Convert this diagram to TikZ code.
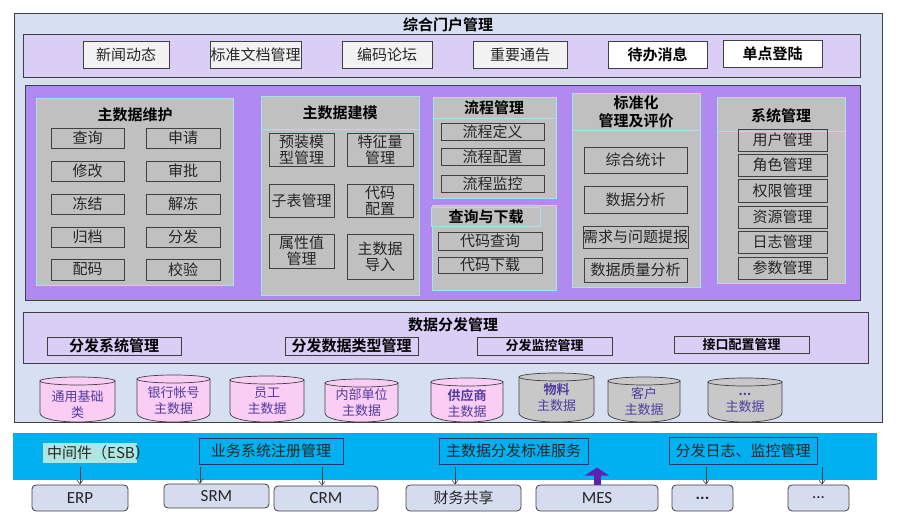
\documentclass[tikz,border=0pt]{standalone}
\usepackage{fontspec}
\setmainfont{Noto Sans CJK SC}[BoldFont={Noto Sans CJK SC Bold}]
\newfontfamily\latin{Carlito}
\usetikzlibrary{arrows.meta}
\definecolor{outerbg}{RGB}{214,224,242}
\definecolor{lav}{RGB}{218,206,246}
\definecolor{purp}{RGB}{176,138,240}
\definecolor{greyp}{RGB}{192,192,192}
\definecolor{cyanl}{RGB}{165,228,232}
\definecolor{btnbg}{RGB}{242,242,242}
\definecolor{edge}{RGB}{64,64,64}
\definecolor{txt}{RGB}{38,38,38}
\definecolor{pinkdb}{RGB}{250,205,245}
\definecolor{greydb}{RGB}{200,200,200}
\definecolor{dbtext}{RGB}{80,60,160}
\definecolor{esbc}{RGB}{0,176,240}
\definecolor{esblab}{RGB}{175,230,225}
\definecolor{navy}{RGB}{31,56,100}
\definecolor{sysbg}{RGB}{214,220,240}
\definecolor{uparrow}{RGB}{96,32,176}
\newcommand\fsz[2]{\fontsize{#1}{#2}\selectfont}
\newcommand\bx[7]{\node[#1, minimum width={(#5-#3)*1pt}, minimum height={(#6-#4)*1pt}] (#2) at ({(#3+#5)/2},{(#4+#6)/2}) {#7};}
\newcommand\cyl[7]{%
 \filldraw[dbline, fill=#5] ({#2},{#4+4}) -- ({#2},413) .. controls ({#2},425) and ({#3},425) .. ({#3},413) -- ({#3},{#4+4}) -- cycle;
 \filldraw[dbline, fill=#5] ({(#2+#3)/2},{#4+4}) ellipse [x radius={(#3-#2)/2}, y radius=4];
 \node[dbtxt] (#1) at ({(#2+#3)/2},{#4+#7}) {#6};}
\begin{document}
\begin{tikzpicture}[x=1pt,y=-1pt,
 box/.style={inner sep=0pt, align=center},
 panel/.style={box, draw=edge, line width=0.8pt},
 btn/.style={box, draw=edge, line width=0.8pt, fill=btnbg, font=\fsz{15}{16}, text=txt},
 btnb/.style={btn, fill=white, font=\bfseries\fsz{15}{16}, text=black},
 sub/.style={box, draw=cyanl, line width=0.8pt, fill=greyp},
 item/.style={box, draw=edge, line width=0.8pt, font=\fsz{15}{16}, text=txt},
 ttl/.style={inner sep=0pt, align=center, font=\bfseries\fsz{15}{18}, text=black},
 dist/.style={box, draw=edge, line width=0.8pt, font=\bfseries\fsz{15}{16}, text=black},
 dists/.style={dist, font=\bfseries\fsz{13}{14}},
 dbline/.style={draw=edge, line width=0.7pt},
 dbtxt/.style={inner sep=0pt, align=center, font=\fsz{13}{16}, text=dbtext},
 esbbox/.style={box, draw=navy, line width=0.8pt, font=\fsz{15}{16}, text=txt},
 sys/.style={box, draw=edge, line width=0.8pt, fill=sysbg, rounded corners=4pt, font=\fsz{17}{17}, text=txt},
 sysc/.style={sys, font=\fsz{15}{16}},
 arr/.style={draw=edge, line width=0.6pt, -{Straight Barb[length=4pt,width=6pt]}},
 upar/.style={draw=uparrow, line width=7pt, -{Triangle[width=24pt,length=8pt]}}]
\useasboundingbox (0,0) rectangle (900,526);
% portal
\bx{panel, fill=outerbg}{outer}{14}{13}{882}{422}{}
\node[ttl] (title) at (448,25) {综合门户管理};
\bx{panel, fill=lav}{portal}{23}{34}{860}{77}{}
\bx{btn}{news}{83}{41}{169}{68}{新闻动态}
\bx{btn}{stddoc}{210}{41}{301}{68}{标准文档管理}
\bx{btn}{forum}{342}{41}{432}{68}{编码论坛}
\bx{btn}{notice}{473}{41}{567}{68}{重要通告}
\bx{btnb}{todo}{608}{41}{707}{68}{待办消息}
\bx{btnb}{sso}{723}{40}{822}{67}{单点登陆}
% main panel
\bx{panel, fill=purp}{main}{25}{85}{860}{300}{}
% panel 1
\bx{sub}{p1}{36}{98}{233}{285}{}
\node[ttl] (p1t) at (135,115) {主数据维护};
\bx{item}{a1}{51}{128}{124}{148}{查询}
\bx{item}{b1}{146}{128}{220}{148}{申请}
\bx{item}{a2}{51}{161}{124}{181}{修改}
\bx{item}{b2}{146}{161}{220}{181}{审批}
\bx{item}{a3}{51}{194}{124}{214}{冻结}
\bx{item}{b3}{146}{194}{220}{214}{解冻}
\bx{item}{a4}{51}{227}{124}{247}{归档}
\bx{item}{b4}{146}{227}{220}{247}{分发}
\bx{item}{a5}{51}{259}{124}{280}{配码}
\bx{item}{b5}{146}{259}{220}{280}{校验}
% panel 2
\bx{sub}{p2}{261}{96}{419}{295}{}
\draw[cyanl, line width=0.8pt] (p2.west |- 0,129) -- (p2.east |- 0,129);
\node[ttl] (p2t) at (340,113) {主数据建模};
\bx{item}{m1}{269}{133}{334}{166}{预装模\\型管理}
\bx{item}{m2}{347}{133}{413}{166}{特征量\\管理}
\bx{item}{m3}{269}{184}{334}{217}{子表管理}
\bx{item}{m4}{347}{184}{413}{217}{代码\\配置}
\bx{item}{m5}{269}{234}{334}{268}{属性值\\管理}
\bx{item}{m6}{347}{234}{413}{279}{主数据\\导入}
% panel 3
\bx{sub}{p3}{433}{97}{556}{198}{}
\bx{sub}{p3h}{433}{97}{556}{118}{}
\node[ttl] (p3t) at (494,108) {流程管理};
\bx{item}{f1}{441}{123}{544}{140}{流程定义}
\bx{item}{f2}{441}{148}{544}{165}{流程配置}
\bx{item}{f3}{441}{175}{544}{192}{流程监控}
% panel 4
\bx{sub}{p4}{432}{205}{556}{290}{}
\bx{sub}{p4h}{431}{207}{540}{226}{}
\node[ttl] (p4t) at (486,217) {查询与下载};
\bx{item}{q1}{438}{232}{542}{250}{代码查询}
\bx{item}{q2}{438}{257}{542}{273}{代码下载}
% panel 5
\bx{sub}{p5}{572}{93}{700}{287}{}
\bx{sub}{p5h}{572}{93}{700}{130}{}
\node[ttl] (p5t) at (636,112) {标准化\\管理及评价};
\bx{item}{s1}{584}{147}{687}{173}{综合统计}
\bx{item}{s2}{584}{186}{687}{213}{数据分析}
\bx{item}{s3}{584}{226}{687}{248}{需求与问题提报}
\bx{item}{s4}{584}{258}{687}{282}{数据质量分析}
% panel 6
\bx{sub}{p6}{717}{97}{845}{283}{}
\draw[cyanl, line width=0.8pt] (p6.west |- 0,131) -- (p6.east |- 0,131);
\node[ttl] (p6t) at (781,116) {系统管理};
\bx{item}{u1}{738}{129}{827}{151}{用户管理}
\bx{item}{u2}{738}{154}{827}{176}{角色管理}
\bx{item}{u3}{738}{179}{827}{202}{权限管理}
\bx{item}{u4}{738}{206}{827}{228}{资源管理}
\bx{item}{u5}{738}{231}{827}{253}{日志管理}
\bx{item}{u6}{738}{257}{827}{279}{参数管理}
% distribution
\bx{panel, fill=lav}{dist}{23}{312}{868}{363}{}
\node[ttl] (distt) at (453,325) {数据分发管理};
\bx{dist}{d1}{47}{337}{181}{355}{分发系统管理}
\bx{dist}{d2}{285}{337}{418}{355}{分发数据类型管理}
\bx{dists}{d3}{477}{337}{612}{355}{分发监控管理}
\bx{dists}{d4}{674}{336}{809}{353}{接口配置管理}
% databases
\begin{scope}
\clip (0,0) rectangle (900,421.5);
\cyl{c1}{40}{115}{377}{pinkdb}{通用基础\\类}{28}
\cyl{c2}{137}{210}{375}{pinkdb}{银行帐号\\主数据}{26}
\cyl{c3}{230}{304}{376}{pinkdb}{员工\\主数据}{25}
\cyl{c4}{325}{398}{379}{pinkdb}{内部单位\\主数据}{24}
\cyl{c5}{431}{503}{378}{pinkdb}{\textbf{供应商}\\主数据}{25}
\cyl{c6}{519}{594}{373}{greydb}{\textbf{物料}\\主数据}{25}
\cyl{c7}{608}{680}{377}{greydb}{客户\\主数据}{25}
\cyl{c8}{708}{782}{378}{greydb}{\textbf{...}\\主数据}{25}
\end{scope}
% ESB band
\bx{box, fill=esbc}{bus}{13}{433}{877}{480}{}
\bx{box, fill=esblab}{esbbg}{43}{443}{137}{463}{}
\node[anchor=west, inner sep=0pt, font=\fsz{15}{16}, text=txt] (esb) at (47,453) {中间件（ESB）};
\bx{esbbox}{reg}{199}{438}{343}{464}{业务系统注册管理}
\bx{esbbox}{std}{439}{438}{588}{464}{主数据分发标准服务}
\bx{esbbox}{log}{669}{437}{817}{464}{分发日志、监控管理}
% systems
\bx{sys}{erp}{32}{485}{128}{511}{\latin ERP}
\bx{sys}{srm}{164}{484}{269}{508}{\latin SRM}
\bx{sys}{crm}{274}{486}{378}{511}{\latin CRM}
\bx{sysc}{fin}{406}{485}{521}{511}{财务共享}
\bx{sys}{mes}{536}{485}{658}{511}{\latin MES}
\bx{sys}{dots1}{672}{485}{733}{511}{\latin\bfseries ...}
\bx{sys}{dots2}{788}{485}{849}{511}{\latin ...}
\coordinate (k1) at (80,467);
\coordinate (k2) at (200,467);
\coordinate (k3) at (322,467);
\coordinate (k4) at (455,467);
\coordinate (k5) at (706,467);
\coordinate (k6) at (822,467);
\draw[arr] (k1) -- (k1 |- erp.north);
\draw[arr] (k2) -- (k2 |- srm.north);
\draw[arr] (k3) -- (k3 |- crm.north);
\draw[arr] (k4) -- (k4 |- fin.north);
\draw[arr] (k5) -- (k5 |- dots1.north);
\draw[arr] (k6) -- (k6 |- dots2.north);
\draw[upar] (mes.north) -- ++(0,-17);
\end{tikzpicture}
\end{document}
